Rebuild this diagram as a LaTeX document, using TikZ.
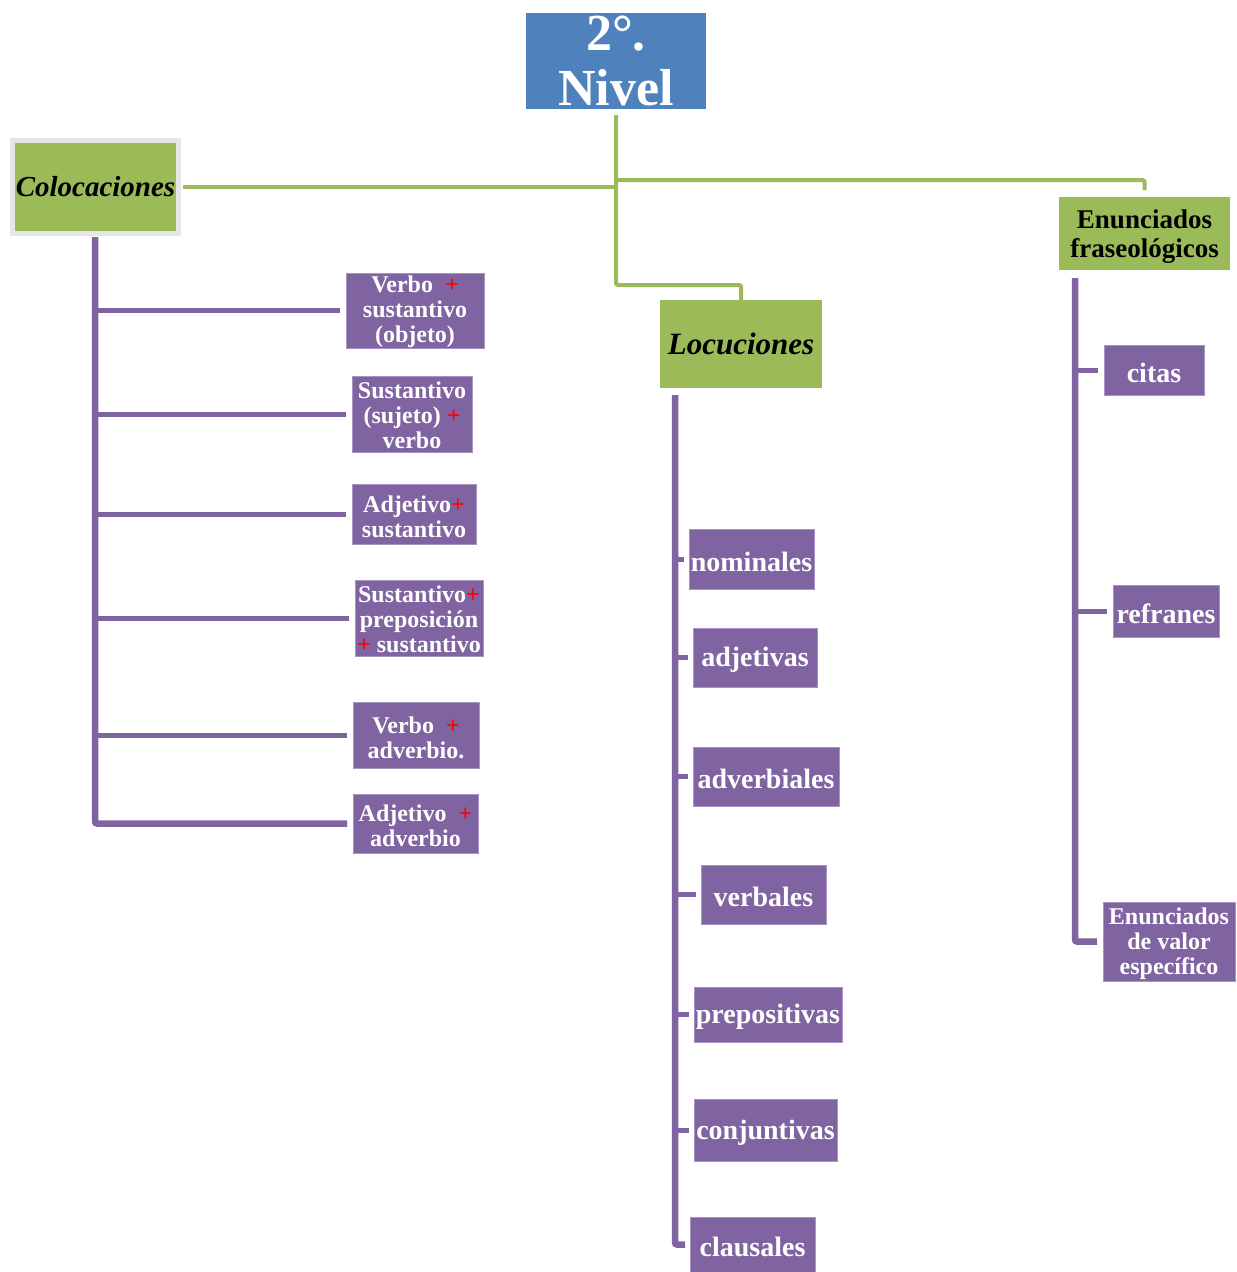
\documentclass[tikz,border=0pt]{standalone}
\usepackage{fontspec}
\setmainfont{Liberation Serif}
\usetikzlibrary{calc}
\definecolor{hdrblue}{HTML}{4F81BD}
\definecolor{leafgreen}{HTML}{9BBB59}
\definecolor{itemviolet}{HTML}{8064A2}
\definecolor{itemedge}{HTML}{A894C4}
\definecolor{frame}{HTML}{E6E6E6}
\definecolor{plusred}{HTML}{FF0000}
\newcommand\redplus{\textcolor{plusred}{+}}
% a tall first-line strut sets the text a little below the box centre
\newcommand\topstrut[1][0.92em]{\rule{0pt}{#1}}
\tikzset{
  x=1pt, y=-1pt,
  every node/.style={inner sep=0pt, outer sep=0pt, align=center},
  lowtext/.style={execute at begin node={\rule{0pt}{0.88em}}},
  titlebox/.style={fill=hdrblue, text=white, font=\bfseries\fontsize{52}{55}\selectfont},
  groupbox/.style={fill=leafgreen, text=black, font=\bfseries\fontsize{27}{29}\selectfont},
  itembox/.style={fill=itemviolet, draw=itemedge, line width=0.8pt, text=white,
    font=\bfseries\fontsize{24}{25}\selectfont},
  bigitem/.style={itembox, lowtext, font=\bfseries\fontsize{28}{30}\selectfont},
  gline/.style={draw=leafgreen, line width=4pt, rounded corners=2pt},
  vtrunk/.style={draw=itemviolet, line width=6.5pt, rounded corners=2pt},
  vbranch/.style={draw=itemviolet, line width=5pt},
}
\begin{document}
\begin{tikzpicture}
\useasboundingbox (0,0) rectangle (1237,1272);

% top level
\node[titlebox, minimum width=180pt, minimum height=96pt] (title) at (616,61)
  {2°.\\Nivel};

% three groups
\node[groupbox, draw=frame, line width=5pt, minimum width=166pt, minimum height=93pt,
  font=\bfseries\itshape\fontsize{29}{31}\selectfont] (colo) at (95.5,187) {Colocaciones};
\node[groupbox, minimum width=162pt, minimum height=88pt,
  font=\bfseries\itshape\fontsize{31}{33}\selectfont] (loc) at (741,344) {Locuciones};
\node[groupbox, minimum width=171pt, minimum height=73pt] (enu) at (1144.5,233.5)
  {\topstrut Enunciados\\fraseológicos};

% green connectors from the top level
\coordinate (hub) at (616,187);
\draw[gline] ([yshift=-6pt]title.south) |- ($(loc.north)+(0,-15)$) -- ([yshift=-5pt]loc.north);
\draw[gline] ([xshift=4pt]colo.east) -- (hub);
\draw[gline] ($(hub)+(0,-7)$) -| ([yshift=7pt]enu.north);

% collocation types
\node[itembox, minimum width=138pt, minimum height=75pt] (c1) at (415,310.5)
  {\topstrut[0.8em]Verbo \ \redplus\\sustantivo\\(objeto)};
\node[itembox, minimum width=120pt, minimum height=76pt] (c2) at (412,414)
  {\topstrut[0.84em]Sustantivo\\(sujeto) \redplus\\verbo};
\node[itembox, minimum width=124pt, minimum height=60pt] (c3) at (414,514)
  {\topstrut Adjetivo\redplus\\sustantivo};
\node[itembox, minimum width=128pt, minimum height=76pt] (c4) at (419,618)
  {\topstrut[0.84em]Sustantivo\redplus\\preposición\\\redplus{} sustantivo};
\node[itembox, minimum width=126pt, minimum height=66pt] (c5) at (416,735)
  {\topstrut Verbo \ \redplus\\adverbio.};
\node[itembox, minimum width=125pt, minimum height=59pt] (c6) at (415.5,823.5)
  {\topstrut Adjetivo \ \redplus\\adverbio};

\coordinate (ctop) at (95,237);
\draw[vtrunk] (ctop) |- ([xshift=-6pt]c6.west);
\foreach \n in {c1,c2,c3,c4,c5}
  \draw[vbranch] (ctop |- \n.west) -- ([xshift=-6pt]\n.west);

% locution types
\node[bigitem, minimum width=125pt, minimum height=60pt] (l1) at (751.5,559) {nominales};
\node[bigitem, minimum width=124pt, minimum height=59pt] (l2) at (755,657.5) {adjetivas};
\node[bigitem, minimum width=146pt, minimum height=59pt] (l3) at (766,776.5) {adverbiales};
\node[bigitem, minimum width=125pt, minimum height=59pt] (l4) at (763.5,894.5) {verbales};
\node[bigitem, minimum width=148pt, minimum height=55pt] (l5) at (768,1014.5) {prepositivas};
\node[bigitem, minimum width=143pt, minimum height=62pt] (l6) at (765.5,1130) {conjuntivas};
\node[bigitem, minimum width=125pt, minimum height=55pt] (l7) at (752.5,1244.5) {clausales};

\coordinate (ltop) at (675,395);
\draw[vtrunk] (ltop) |- ([xshift=-5pt]l7.west);
\foreach \n in {l1,l2,l3,l4,l5,l6}
  \draw[vbranch] (ltop |- \n.west) -- ([xshift=-5pt]\n.west);

% phraseological statement types
\node[bigitem, minimum width=100pt, minimum height=50pt] (e1) at (1154,370) {citas};
\node[bigitem, minimum width=106pt, minimum height=52pt] (e2) at (1166,611) {refranes};
\node[itembox, minimum width=132pt, minimum height=79pt] (e3) at (1169,941.5)
  {\topstrut Enunciados\\de valor\\específico};

\coordinate (etop) at (1075,278);
\draw[vtrunk] (etop) |- ([xshift=-6pt]e3.west);
\foreach \n in {e1,e2}
  \draw[vbranch] (etop |- \n.west) -- ([xshift=-6pt]\n.west);
\end{tikzpicture}
\end{document}
